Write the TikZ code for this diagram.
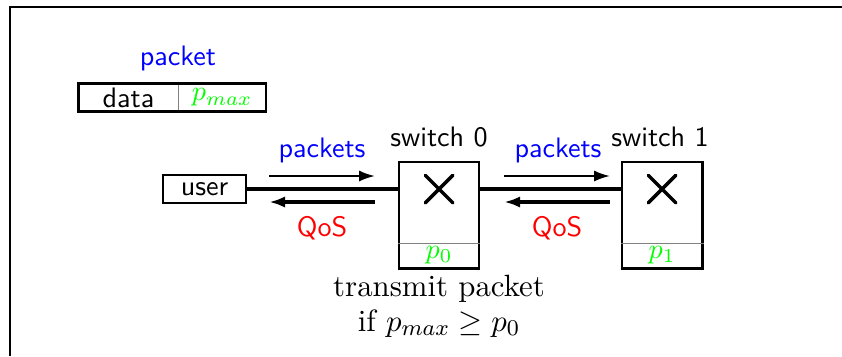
\documentclass[tikz,border=0pt]{standalone}
\usepackage{amsmath}
\usepackage{amssymb}
\usetikzlibrary{arrows.meta,shapes.misc}
\tikzset{
  box/.style={draw,line width=1.05pt,inner sep=0pt,font=\sffamily},
  field/.style={inner sep=0pt,minimum height=0.3375cm},
  cross/.style={cross out,draw,line width=1.25pt,line cap=round,minimum size=0.3cm,inner sep=0pt},
  link/.style={line width=1.5pt,line cap=round},
  flow/.style={-{Latex[length=2mm,width=1.4mm]},thick},
}

\begin{document}
\begin{tikzpicture}[x=0.0125cm,y=-0.0125cm]
    \useasboundingbox (0,0) rectangle (842,356);
    \draw[thick] (10,356) -- (10,7) -- (842,7);

    \node[blue,font=\sffamily] (pk) at (178,58) {packet};
    \node[field,minimum width=1.2375cm,font=\sffamily] (data) at (128.5,97.5) {data};
    \node[field,minimum width=1.075cm,anchor=west,green] (pmax) at (data.east) {$p_{max}$};
    \draw[gray] (data.north east) -- (data.south east);
    \draw[thick] (data.north west) rectangle (pmax.south east);

    \node[box,minimum width=1.0375cm,minimum height=0.35cm] (user) at (204.5,189) {user};
    \node[box,minimum width=1cm,minimum height=1.325cm] (sw0) at (439,215) {};
    \node[box,minimum width=1cm,minimum height=1.325cm] (sw1) at (662,215) {};
    \node[cross] (x0) at (439,189) {};
    \node[cross] (x1) at (662,189) {};
    \draw[gray] ([yshift=0.325cm]sw0.south west) -- ([yshift=0.325cm]sw0.south east);
    \draw[gray] ([yshift=0.325cm]sw1.south west) -- ([yshift=0.325cm]sw1.south east);
    \node[green] (p0) at (439,255) {$p_0$};
    \node[green] (p1) at (662,255) {$p_1$};
    \node[font=\sffamily] (name0) at (439,137) {switch 0};
    \node[font=\sffamily] (name1) at (660,137) {switch 1};

    \draw[link] (user.east) -- (sw0.west |- x0);
    \draw[link] (sw0.east |- x0) -- (sw1.west |- x1);

    \coordinate (up0a) at (269,176);
    \coordinate (up0b) at (375,176);
    \coordinate (dn0a) at (375,202);
    \coordinate (dn0b) at (269,202);
    \coordinate (up1a) at (504,176);
    \coordinate (up1b) at (610,176);
    \coordinate (dn1a) at (610,202);
    \coordinate (dn1b) at (504,202);
    \draw[flow] (up0a) -- (up0b);
    \draw[flow,very thick] (dn0a) -- (dn0b);
    \draw[flow] (up1a) -- (up1b);
    \draw[flow,very thick] (dn1a) -- (dn1b);
    \node[blue,font=\sffamily] (pks0) at (322,150) {packets};
    \node[blue,font=\sffamily] (pks1) at (558,150) {packets};
    \node[red,font=\sffamily] (qos0) at (322,228) {QoS};
    \node[red,font=\sffamily] (qos1) at (557,228) {QoS};

    \node[align=center,font=\fontsize{10.95}{12.4}\selectfont] (rule) at (439,306) {transmit packet\\if $p_{max}\geq p_0$};
\end{tikzpicture}
\end{document}
